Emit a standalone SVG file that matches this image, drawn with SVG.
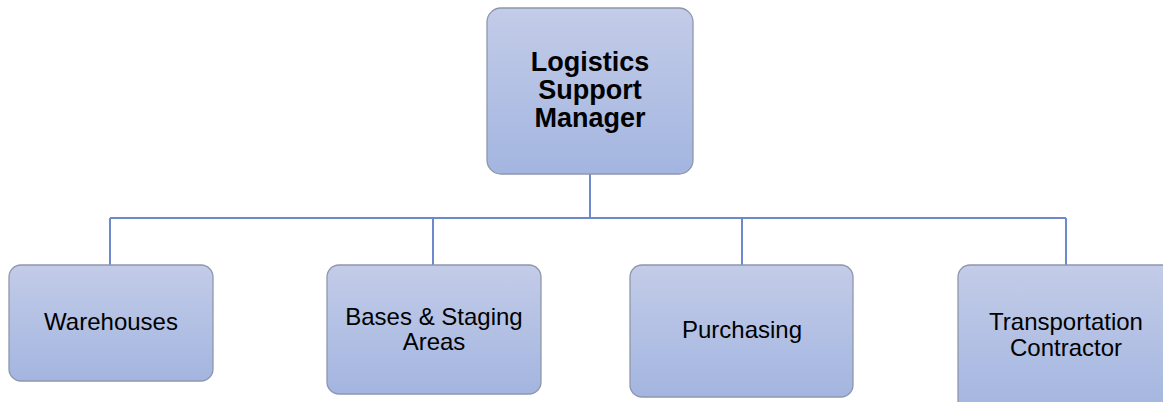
<svg xmlns="http://www.w3.org/2000/svg" width="1163" height="402" viewBox="0 0 1163 402">
<defs>
<linearGradient id="g" x1="0" y1="0" x2="0" y2="1">
<stop offset="0" stop-color="#c3cce8"/>
<stop offset="1" stop-color="#a3b5e0"/>
</linearGradient>
<style>
.box{fill:url(#g);stroke:#8e97ab;stroke-width:1.3}
.t{font-family:"Liberation Sans",Arial,sans-serif;font-size:24px;fill:#000;text-anchor:middle}
.b{font-weight:bold;font-size:27px}
.c{fill:none;stroke:#6b89cc;stroke-width:2}
</style>
</defs>
<rect width="1163" height="402" fill="#fff"/>
<g id="connectors">
<path class="c" d="M590 174V218M110 218H1066M110 218V265M433 218V265M742 218V265M1066 218V265"/>
</g>
<g id="manager">
<rect class="box" x="487" y="8" width="206" height="166" rx="14"/>
<text class="t b" x="590" y="71">Logistics</text>
<text class="t b" x="590" y="99">Support</text>
<text class="t b" x="590" y="127">Manager</text>
</g>
<g id="warehouses">
<rect class="box" x="9" y="265" width="204" height="116" rx="12"/>
<text class="t" x="111" y="330">Warehouses</text>
</g>
<g id="bases">
<rect class="box" x="327" y="265" width="214" height="129" rx="12"/>
<text class="t" x="434" y="325">Bases &amp; Staging</text>
<text class="t" x="434" y="350">Areas</text>
</g>
<g id="purchasing">
<rect class="box" x="630" y="265" width="223" height="132" rx="12"/>
<text class="t" x="742" y="338">Purchasing</text>
</g>
<g id="transport">
<rect class="box" x="958" y="265" width="220" height="150" rx="12"/>
<text class="t" x="1066" y="330">Transportation</text>
<text class="t" x="1066" y="356">Contractor</text>
</g>
</svg>
